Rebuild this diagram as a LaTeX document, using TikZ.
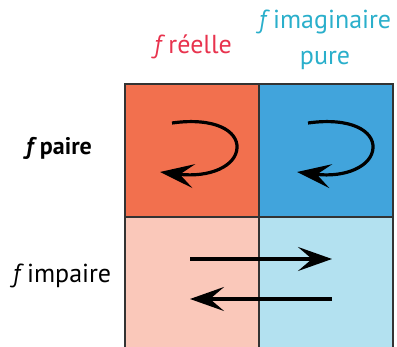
\documentclass[tikz,border=0pt]{standalone}
\usepackage{fontspec}
\setmainfont{PT Sans}
\usetikzlibrary{arrows.meta}
\definecolor{reel}{HTML}{F2704E}
\definecolor{reelpale}{HTML}{FAC8BA}
\definecolor{imag}{HTML}{41A4DC}
\definecolor{imagpale}{HTML}{B3E1F0}
\definecolor{titrereel}{HTML}{E8334E}
\definecolor{titreimag}{HTML}{2AAFCB}
\definecolor{bord}{HTML}{333333}
\newcommand{\fn}{\textit{f}\hspace{0.12em}}
\tikzset{
  cell/.style={draw=bord, line width=2pt, minimum width=134pt, minimum height=133pt, inner sep=0pt, anchor=north west},
  fleche/.style={line width=3.2pt, -{Stealth[length=34pt,width=24pt,inset=14pt]}},
  titre/.style={font=\fontsize{26}{36}\selectfont, align=center, inner sep=0pt},
}
\begin{document}
\begin{tikzpicture}[x=1pt,y=-1pt]
\useasboundingbox (0,0) rectangle (397,347);
\clip (0,0) rectangle (397,347);
% cells
\node[cell, fill=reelpale] (c21) at (124,216) {};
\node[cell, fill=imagpale] (c22) at (258,216) {};
\node[cell, fill=reel] (c11) at (124,83) {};
\node[cell, fill=imag] (c12) at (258,83) {};
% column and row headings
\node[titre, text=titrereel] (hreel) at (193,47) {\fn réelle};
\node[titre, text=titreimag] (himag) at (325,40) {\fn imaginaire\\pure};
\node[titre, font=\fontsize{24}{36}\selectfont\bfseries] (hpaire) at (59,148) {\fn paire};
\node[titre] (himpaire) at (62,276) {\fn impaire};
% symmetric: turning arrows
\coordinate (a1) at (172,123); \coordinate (b1) at (160,172);
\coordinate (a2) at (308,123); \coordinate (b2) at (297,172);
\draw[fleche] (a1) .. controls (215,117) and (238,131) .. (237,148)
  .. controls (236,166) and (210,178) .. (b1);
\draw[fleche] (a2) .. controls (351,117) and (374,131) .. (373,148)
  .. controls (372,166) and (346,178) .. (b2);
% odd: exchanging arrows
\coordinate (p1) at (190,259); \coordinate (q1) at (332,259);
\coordinate (p2) at (332,299); \coordinate (q2) at (190,299);
\draw[fleche] (p1) -- (q1);
\draw[fleche] (p2) -- (q2);
\end{tikzpicture}
\end{document}
